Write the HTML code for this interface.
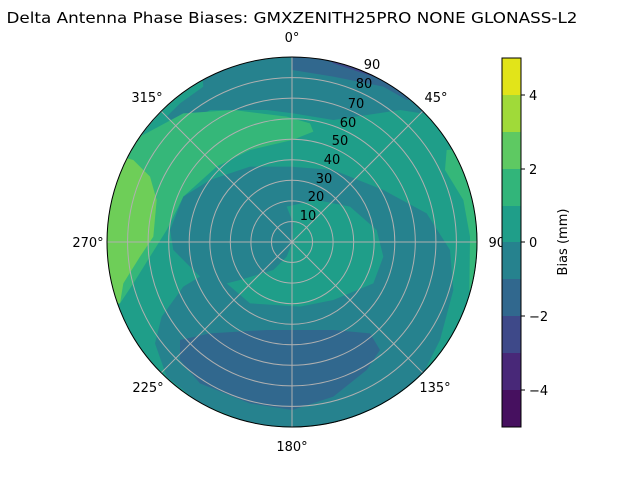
<!DOCTYPE html>
<html><head><meta charset="utf-8"><style>
body{margin:0;background:#fff;}
svg text{font-family:"DejaVu Sans","Liberation Sans",sans-serif;font-size:13px;fill:#000;}
</style></head><body>
<svg width="640" height="480" viewBox="0 0 640 480" xmlns="http://www.w3.org/2000/svg">
<defs><clipPath id="c"><circle cx="577" cy="577" r="555"/></clipPath></defs>
<text x="292" y="23" text-anchor="middle" style="font-size:15.5px" textLength="571" lengthAdjust="spacingAndGlyphs">Delta Antenna Phase Biases: GMXZENITH25PRO  NONE GLONASS-L2</text>
<g transform="translate(100 50) scale(0.333333)">
<g clip-path="url(#c)">
<rect x="0" y="0" width="1170" height="1170" fill="#1f9e89"/>
<path d="M300,0 L1170,0 L1170,200 L965,190 L900,180 L700,210 L580,190 L500,180 L330,180 L240,230 L200,200 L240,160 L310,110 Z" fill="#26828e"/>
<path d="M577,0 L1170,0 L1170,150 L920,150 L850,110 L700,80 L577,60 Z" fill="#31688e"/>
<path d="M650,0 L1000,0 L900,110 L820,80 L700,40 Z" fill="#3e4989"/>
<path d="M0,260 L120,260 L250,190 L400,180 L560,200 L630,220 L640,245 L577,270 L450,300 L350,350 L250,440 L200,540 L150,620 L100,700 L60,760 L0,760 Z" fill="#35b779"/>
<path d="M0,300 L30,310 L100,330 L150,380 L170,450 L160,560 L120,620 L70,700 L60,760 L0,760 Z" fill="#6ece58"/>
<path d="M1170,290 L1040,300 L1035,360 L1090,450 L1110,560 L1108,720 L1170,720 Z" fill="#35b779"/>
<path d="M570,350 L700,360 L850,420 L980,490 L1050,600 L1060,720 L1020,870 L960,990 L850,1080 L700,1120 L577,1135 L450,1120 L300,1060 L200,980 L165,880 L185,800 L250,710 L300,680 L260,640 L220,600 L210,540 L250,440 L330,390 L450,350 Z" fill="#26828e"/>
<path d="M560,470 L650,450 L750,470 L830,540 L850,620 L820,700 L700,750 L600,770 L450,760 L380,700 L420,690 L520,660 L560,620 L577,577 L580,520 Z" fill="#1f9e89"/>
<path d="M240,870 L330,850 L500,840 L700,840 L810,850 L840,900 L800,960 L700,1040 L577,1080 L450,1060 L300,1000 L240,930 Z" fill="#31688e"/>
</g>
</g>
<g fill="none" stroke="#b0b0b0" stroke-width="1">
<circle cx="292" cy="242" r="20.56"/><circle cx="292" cy="242" r="41.1"/><circle cx="292" cy="242" r="61.7"/>
<circle cx="292" cy="242" r="82.2"/><circle cx="292" cy="242" r="102.8"/><circle cx="292" cy="242" r="123.3"/>
<circle cx="292" cy="242" r="143.9"/><circle cx="292" cy="242" r="164.4"/>
<line x1="292" y1="57" x2="292" y2="427"/><line x1="107" y1="242" x2="477" y2="242"/>
<line x1="161.2" y1="111.2" x2="422.8" y2="372.8"/><line x1="422.8" y1="111.2" x2="161.2" y2="372.8"/>
</g>
<circle cx="292" cy="242" r="185" fill="none" stroke="#000" stroke-width="1"/>
<g text-anchor="middle">
<text x="308" y="220">10</text><text x="316" y="201">20</text><text x="324" y="183">30</text>
<text x="332" y="164">40</text><text x="340" y="145">50</text><text x="348" y="127">60</text>
<text x="356" y="108">70</text><text x="364" y="88">80</text><text x="372" y="69">90</text>
<text x="292" y="42">0°</text><text x="436" y="102">45°</text><text x="500" y="247">90°</text>
<text x="435" y="392">135°</text><text x="292" y="451">180°</text><text x="148" y="392">225°</text>
<text x="88" y="247">270°</text><text x="147" y="102">315°</text>
</g>
<g>
<rect x="502" y="58" width="19" height="37" fill="#e2e419"/>
<rect x="502" y="95" width="19" height="37" fill="#a0da39"/>
<rect x="502" y="132" width="19" height="37" fill="#5ec962"/>
<rect x="502" y="169" width="19" height="37" fill="#32b57a"/>
<rect x="502" y="206" width="19" height="37" fill="#1f9e89"/>
<rect x="502" y="242" width="19" height="37" fill="#26828e"/>
<rect x="502" y="279" width="19" height="37" fill="#31688e"/>
<rect x="502" y="316" width="19" height="37" fill="#3e4989"/>
<rect x="502" y="353" width="19" height="37" fill="#482878"/>
<rect x="502" y="390" width="19" height="37" fill="#46105f"/>
<rect x="502" y="58" width="19" height="369" fill="none" stroke="#000" stroke-width="1"/>
<g stroke="#000"><line x1="521" y1="95" x2="525" y2="95"/><line x1="521" y1="169" x2="525" y2="169"/><line x1="521" y1="242" x2="525" y2="242"/><line x1="521" y1="316" x2="525" y2="316"/><line x1="521" y1="390" x2="525" y2="390"/></g>
<text x="529" y="100">4</text><text x="529" y="174">2</text><text x="529" y="247">0</text>
<text x="529" y="321">−2</text><text x="529" y="395">−4</text>
<text transform="translate(567 242) rotate(-90)" text-anchor="middle">Bias (mm)</text>
</g>
</svg>
</body></html>
